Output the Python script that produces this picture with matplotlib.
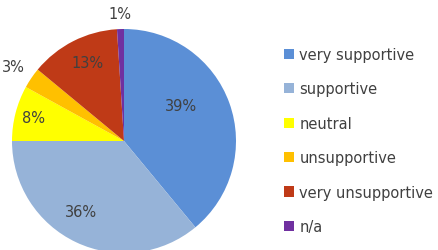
import numpy as np
import matplotlib
matplotlib.use("Agg")
import matplotlib.pyplot as plt

# pie data
categories = ["very supportive", "supportive", "neutral", "unsupportive",
              "very unsupportive", "n/a"]
shares = [39, 36, 8, 3, 13, 1]
colors = ["#5B8FD6", "#96B3D8", "#FFFF00", "#FFC000", "#BF3A17", "#7030A0"]

# where each % label sits (fraction of radius), like Excel's best fit
label_r = [0.6, 0.74, 0.83, 1.19, 0.77, 1.14]
label_shift = [12, -6, 0, 0, -2, 0]   # degrees

plt.rcParams['font.family'] = ['DejaVu Sans']

fig = plt.figure(figsize=(4.38, 2.51), dpi=100)
W, H = 438, 251
cx, cy, r = 124, 142, 112
ax = fig.add_axes([(cx - r) / W, (H - cy - r) / H, 2 * r / W, 2 * r / H])

wedges, texts, autotexts = ax.pie(shares, colors=colors, startangle=90,
                                  counterclock=False, radius=1,
                                  autopct='%.0f%%',
                                  textprops=dict(color='#404040', fontsize=10.5),
                                  wedgeprops=dict(linewidth=0))

for w, t, rr, sh in zip(wedges, autotexts, label_r, label_shift):
    ang = np.deg2rad((w.theta1 + w.theta2) / 2 + sh)
    t.set_position((rr * np.cos(ang), rr * np.sin(ang)))
    t.set_clip_on(False)

ax.set_xlim(-1, 1)
ax.set_ylim(-1, 1)
ax.set_aspect('equal')
ax.axis('off')

leg = fig.legend(wedges, categories, loc='upper left',
                 bbox_to_anchor=(284 / W, 1 - 48 / H),
                 frameon=False, fontsize=10.5, handlelength=0.7,
                 handleheight=0.7, handletextpad=0.35, labelspacing=1.33,
                 borderaxespad=0, borderpad=0)
for t in leg.get_texts():
    t.set_color('#404040')

fig.savefig("out.png", dpi=100)
